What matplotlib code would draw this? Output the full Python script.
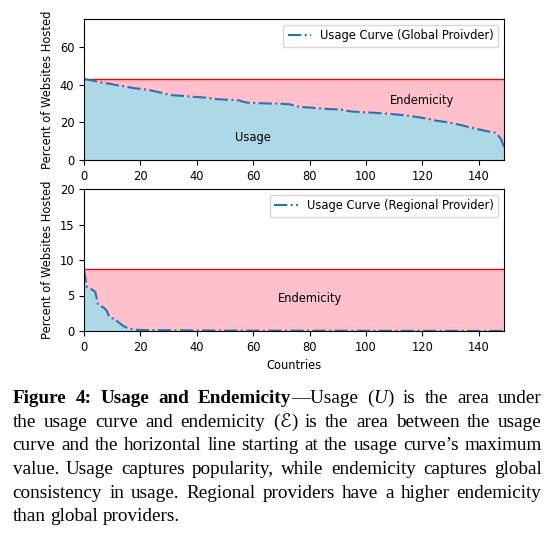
import matplotlib
matplotlib.use("Agg")
import matplotlib.pyplot as plt
import numpy as np

# usage curve of a global provider, per country rank (150 countries)
global_usage = [
    43.1, 42.8, 42.5, 42.2, 41.9, 41.6, 41.3, 41.0, 40.8, 40.6,
    40.3, 40.0, 39.7, 39.5, 39.3, 39.0, 38.7, 38.4, 38.2, 38.0,
    37.9, 37.7, 37.5, 37.2, 36.9, 36.6, 36.3, 35.9, 35.6, 35.2,
    34.8, 34.5, 34.4, 34.3, 34.2, 34.1, 34.0, 33.9, 33.7, 33.6,
    33.5, 33.4, 33.3, 33.2, 33.0, 32.8, 32.6, 32.4, 32.3, 32.2,
    32.1, 32.0, 32.0, 31.9, 31.8, 31.7, 31.2, 30.8, 30.5, 30.4,
    30.3, 30.3, 30.2, 30.2, 30.1, 30.1, 30.0, 30.0, 30.0, 29.9,
    29.9, 29.8, 29.7, 29.6, 29.2, 28.8, 28.4, 28.2, 28.1, 28.0,
    27.9, 27.8, 27.6, 27.5, 27.4, 27.3, 27.2, 27.1, 27.0, 27.0,
    26.9, 26.8, 26.6, 26.3, 26.0, 25.8, 25.7, 25.6, 25.5, 25.4,
    25.4, 25.3, 25.2, 25.1, 25.0, 24.9, 24.8, 24.7, 24.6, 24.5,
    24.3, 24.2, 24.0, 23.9, 23.7, 23.5, 23.3, 23.1, 22.9, 22.7,
    22.4, 22.2, 21.9, 21.6, 21.3, 20.9, 20.7, 20.5, 20.3, 20.0,
    19.8, 19.5, 19.2, 18.8, 18.5, 18.1, 17.7, 17.3, 17.0, 16.6,
    16.3, 16.0, 15.6, 15.3, 15.0, 14.8, 14.5, 13.0, 11.0, 7.0,
]

# usage curve of a regional provider
regional_usage = [
    8.7, 6.2, 6.0, 5.8, 5.5, 3.7, 3.5, 3.3, 2.9, 2.0,
    1.8, 1.7, 1.3, 1.0, 0.7, 0.5, 0.4, 0.25, 0.2, 0.16,
    0.14, 0.13, 0.13, 0.12, 0.12, 0.12, 0.11, 0.11, 0.11, 0.10,
    0.10, 0.10, 0.10, 0.09, 0.09, 0.09, 0.09, 0.09, 0.08, 0.08,
    0.08, 0.08, 0.08, 0.08, 0.07, 0.07, 0.07, 0.07, 0.07, 0.07,
    0.07, 0.06, 0.06, 0.06, 0.06, 0.06, 0.06, 0.06, 0.06, 0.05,
    0.05, 0.05, 0.05, 0.05, 0.05, 0.05, 0.05, 0.05, 0.05, 0.05,
    0.05, 0.05, 0.05, 0.05, 0.05, 0.04, 0.04, 0.04, 0.04, 0.04,
    0.04, 0.04, 0.04, 0.04, 0.04, 0.04, 0.04, 0.04, 0.04, 0.04,
    0.04, 0.04, 0.04, 0.03, 0.03, 0.03, 0.03, 0.03, 0.03, 0.03,
    0.03, 0.03, 0.03, 0.03, 0.03, 0.03, 0.03, 0.03, 0.03, 0.03,
    0.03, 0.03, 0.03, 0.03, 0.02, 0.02, 0.02, 0.02, 0.02, 0.02,
    0.02, 0.02, 0.02, 0.02, 0.02, 0.02, 0.02, 0.02, 0.02, 0.02,
    0.02, 0.02, 0.02, 0.02, 0.02, 0.01, 0.01, 0.01, 0.01, 0.01,
    0.01, 0.01, 0.01, 0.01, 0.01, 0.01, 0.01, 0.01, 0.01, 0.01,
]

panels = [
    (global_usage, "Usage Curve (Global Proivder)", 75, [0, 20, 40, 60]),
    (regional_usage, "Usage Curve (Regional Provider)", 20, [0, 5, 10, 15, 20]),
]

caption = [
    [("Figure 4: Usage and Endemicity", "bold"), ("\u2014Usage (", "normal"),
     ("U", "italic"), (") is the area under", "normal")],
    [("the usage curve and endemicity (", "normal"), ("\u2130", "italic"),
     (") is the area between the usage", "normal")],
    [("curve and the horizontal line starting at the usage curve\u2019s maximum", "normal")],
    [("value. Usage captures popularity, while endemicity captures global", "normal")],
    [("consistency in usage. Regional providers have a higher endemicity", "normal")],
    [("than global providers.", "normal")],
]

W, H = 556, 536
fig = plt.figure(figsize=(W / 100, H / 100), dpi=100)
fs = 8.3

ax_top = fig.add_axes([84 / W, 1 - 160 / H, 420 / W, 141 / H])
ax_bot = fig.add_axes([84 / W, 1 - 331 / H, 420 / W, 142 / H])

for ax, (vals, name, ytop, yt) in zip([ax_top, ax_bot], panels):
    y = np.array(vals)
    x = np.arange(len(y))
    ymax = y.max()
    ax.fill_between(x, 0, y, color="lightblue", lw=0)
    ax.fill_between(x, y, ymax, color="pink", lw=0)
    ax.axhline(ymax, color="red", lw=1)
    ax.plot(x, y, ls="-.", color="#1f77b4", lw=1.5, label=name)
    ax.set_xlim(0, len(y) - 1)
    ax.set_ylim(0, ytop)
    ax.set_yticks(yt)
    ax.set_xticks([0, 20, 40, 60, 80, 100, 120, 140])
    ax.tick_params(labelsize=fs)
    ax.set_ylabel("Percent of Websites Hosted", fontsize=fs)
    ax.legend(loc="upper right", fontsize=fs)

ax_top.text(60, 12, "Usage", fontsize=fs, ha="center", va="center")
ax_top.text(120, 31.5, "Endemicity", fontsize=fs, ha="center", va="center")
ax_bot.text(80, 4.6, "Endemicity", fontsize=fs, ha="center", va="center")
ax_bot.set_xlabel("Countries", fontsize=fs)

# caption, justified line by line
renderer = fig.canvas.get_renderer()
cfs = 13.8
fam = ["Liberation Serif", "DejaVu Serif", "DejaVu Sans"]
left, right = 12.7, 541.5
baselines = [403.3, 426.8, 450.3, 473.9, 497.5, 521.1]


def make(s, style):
    kw = dict(fontsize=cfs, family=fam, va="baseline", ha="left")
    if style == "bold":
        kw["weight"] = "bold"
    if style == "italic":
        kw["style"] = "italic"
    return fig.text(0, 0, s, **kw)


for li, (pieces, base) in enumerate(zip(caption, baselines)):
    words = [[]]
    for s, style in pieces:
        parts = s.split(" ")
        for i, p in enumerate(parts):
            if i > 0:
                words.append([])
            if p:
                words[-1].append(make(p, style))
    words = [w for w in words if w]
    widths = [[t.get_window_extent(renderer).width for t in w] for w in words]
    total = sum(sum(ws) for ws in widths)
    if li < len(caption) - 1:
        gap = (right - left - total) / (len(words) - 1)
    else:
        gap = cfs * 100 / 72 * 0.25
    xpos = left
    for w, ws in zip(words, widths):
        for t, wd in zip(w, ws):
            t.set_position((xpos / W, 1 - base / H))
            xpos += wd
        xpos += gap

fig.savefig("out.png", dpi=100)
